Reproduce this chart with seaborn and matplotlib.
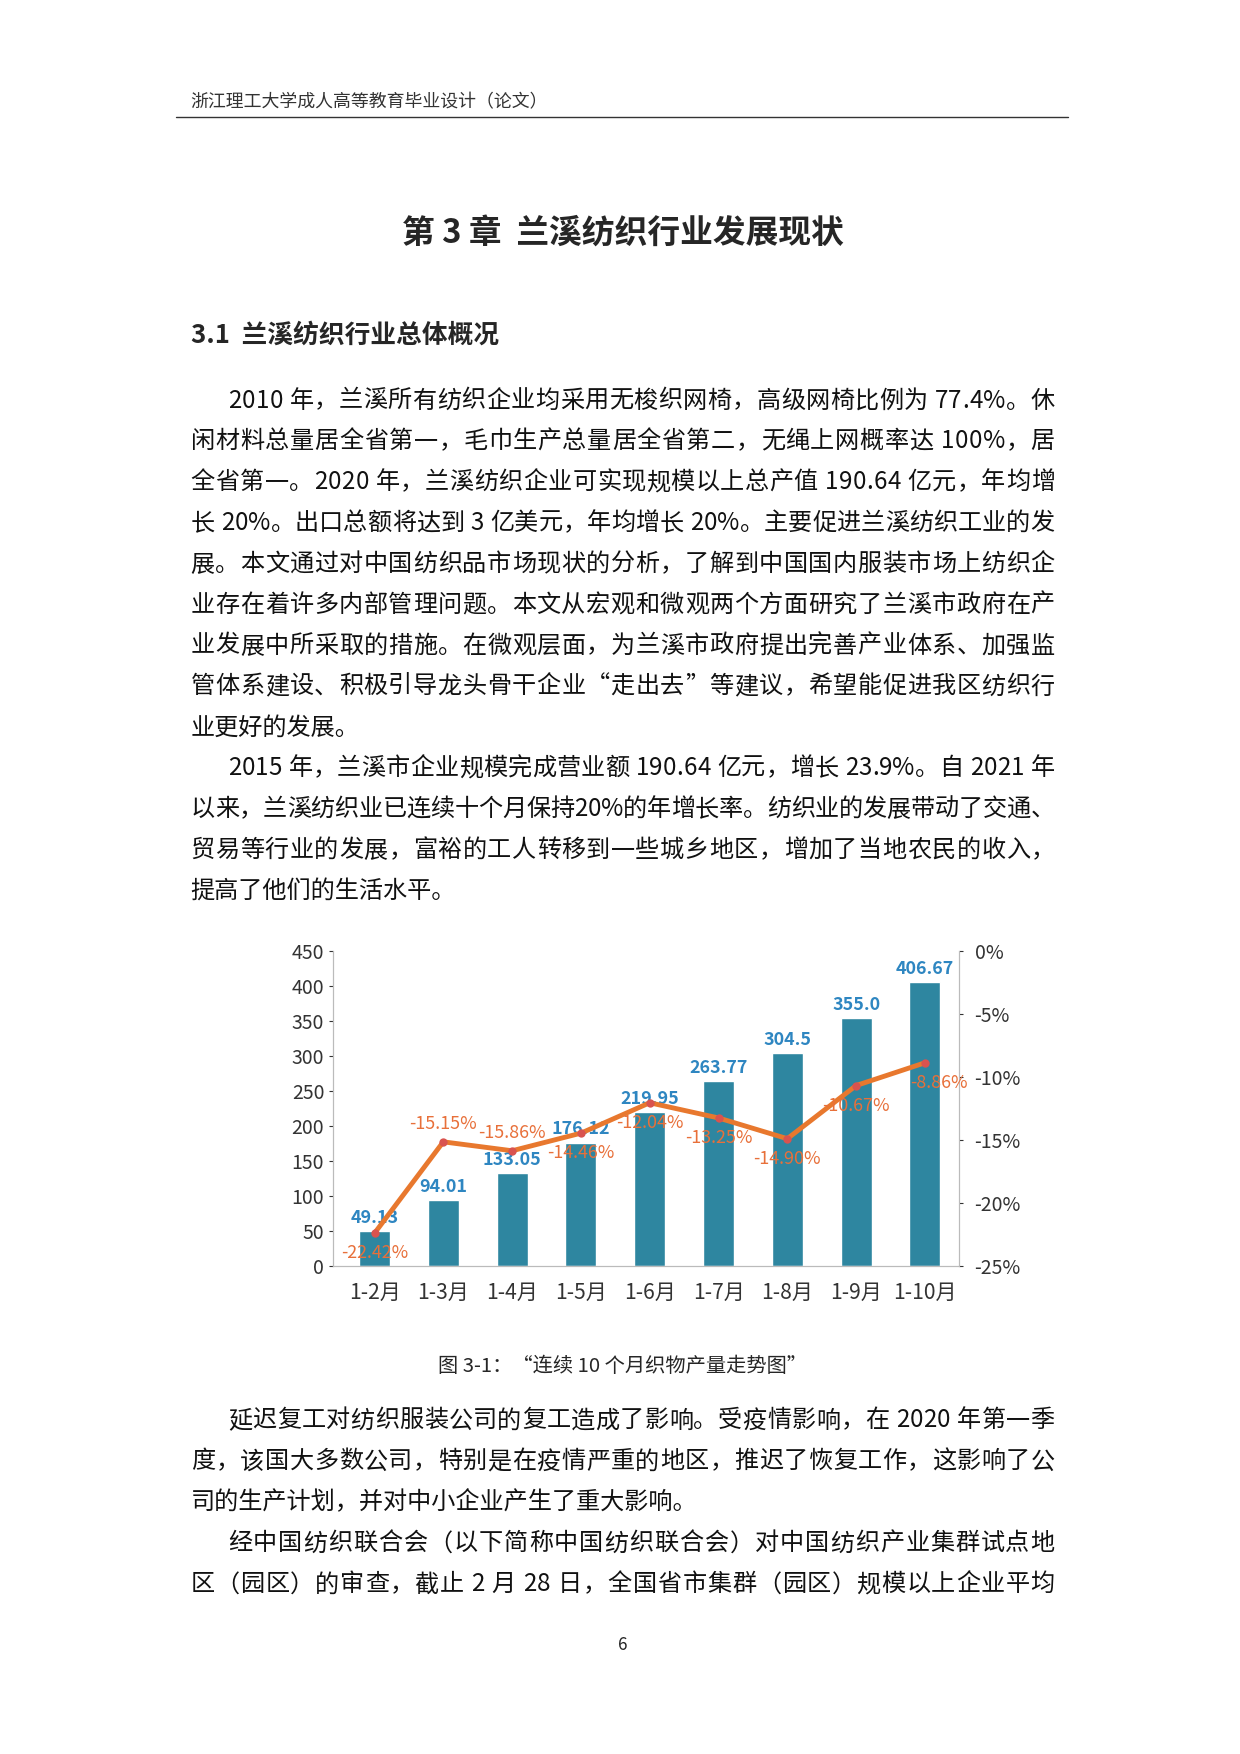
import matplotlib.pyplot as plt
import pandas as pd
import seaborn as sns

months = ["1-2月", "1-3月", "1-4月", "1-5月", "1-6月", "1-7月", "1-8月", "1-9月", "1-10月"]
output = [49.13, 94.01, 133.05, 176.12, 219.95, 263.77, 304.5, 355.0, 406.67]
output_labels = ["49.13", "94.01", "133.05", "176.12", "219.95", "263.77", "304.5", "355.0", "406.67"]
growth = [-22.42, -15.15, -15.86, -14.46, -12.04, -13.25, -14.90, -10.67, -8.86]
growth_above = [False, True, True, False, False, False, False, False, False]

para_top = [
    ("2010 年，兰溪所有纺织企业均采用无梭织网椅，高级网椅比例为 77.4%。休", True, True),
    ("闲材料总量居全省第一，毛巾生产总量居全省第二，无绳上网概率达 100%，居", False, True),
    ("全省第一。2020 年，兰溪纺织企业可实现规模以上总产值 190.64 亿元，年均增", False, True),
    ("长 20%。出口总额将达到 3 亿美元，年均增长 20%。主要促进兰溪纺织工业的发", False, True),
    ("展。本文通过对中国纺织品市场现状的分析，了解到中国国内服装市场上纺织企", False, True),
    ("业存在着许多内部管理问题。本文从宏观和微观两个方面研究了兰溪市政府在产", False, True),
    ("业发展中所采取的措施。在微观层面，为兰溪市政府提出完善产业体系、加强监", False, True),
    ("管体系建设、积极引导龙头骨干企业“走出去”等建议，希望能促进我区纺织行", False, True),
    ("业更好的发展。", False, False),
    ("2015 年，兰溪市企业规模完成营业额 190.64 亿元，增长 23.9%。自 2021 年", True, True),
    ("以来，兰溪纺织业已连续十个月保持20%的年增长率。纺织业的发展带动了交通、", False, True),
    ("贸易等行业的发展，富裕的工人转移到一些城乡地区，增加了当地农民的收入，", False, True),
    ("提高了他们的生活水平。", False, False),
]
para_bottom = [
    ("延迟复工对纺织服装公司的复工造成了影响。受疫情影响，在 2020 年第一季", True, True),
    ("度，该国大多数公司，特别是在疫情严重的地区，推迟了恢复工作，这影响了公", False, True),
    ("司的生产计划，并对中小企业产生了重大影响。", False, False),
    ("经中国纺织联合会（以下简称中国纺织联合会）对中国纺织产业集群试点地", True, True),
    ("区（园区）的审查，截止 2 月 28 日，全国省市集群（园区）规模以上企业平均", False, True),
]

sns.set_style("white")
plt.rcParams["font.family"] = ["Noto Sans CJK SC", "DejaVu Sans"]

W, H = 1240, 1754
S = 1.122  # layout measured on a 1105-wide view of the page
fig = plt.figure(figsize=(12.4, 17.54), dpi=100)
renderer = fig.canvas.get_renderer()


def px(x, y):
    return x * S / W, 1 - y * S / H


def body_line(text, y, indent, justify, size=15.5 * S):
    x0 = 203 if indent else 170
    x1 = 940
    if not justify:
        fig.text(*px(x0, y), text, fontsize=size, va="center", color="#111")
        return
    widths = []
    for ch in text:
        t = fig.text(0, 0, ch, fontsize=size)
        widths.append(t.get_window_extent(renderer).width / S if ch != " " else size * 0.3)
        t.remove()
    gap = (x1 - x0 - sum(widths)) / max(len(text) - 1, 1)
    x = x0
    for ch, w in zip(text, widths):
        if ch != " ":
            fig.text(*px(x, y), ch, fontsize=size, va="center", color="#111")
        x += w + gap


# header
fig.text(*px(170, 91), "浙江理工大学成人高等教育毕业设计（论文）", fontsize=11.5 * S, va="center", color="#333")
fig.add_artist(plt.Line2D([157 * S / W, 952 * S / W], [1 - 104 * S / H] * 2, color="#333", lw=1))
fig.text(*px(555, 208), "第 3 章  兰溪纺织行业发展现状", fontsize=21 * S, fontweight="bold",
         ha="center", va="center")
fig.text(*px(170, 299), "3.1  兰溪纺织行业总体概况", fontsize=16.5 * S, fontweight="bold", va="center")

for i, (txt, ind, jus) in enumerate(para_top):
    body_line(txt, 357 + i * 36.4, ind, jus)
for i, (txt, ind, jus) in enumerate(para_bottom):
    body_line(txt, 1266 + i * 36.5, ind, jus)

fig.text(*px(555, 1218), "图 3-1：“连续 10 个月织物产量走势图”", fontsize=13 * S, ha="center", va="center")
fig.text(*px(555, 1466), "6", fontsize=11 * S, ha="center", va="center")

# chart
ax = fig.add_axes([297 * S / W, 1 - 1128 * S / H, (855 - 297) * S / W, 280 * S / H])
df = pd.DataFrame({"month": months, "output": output, "growth": growth})
sns.barplot(data=df, x="month", y="output", color="#2e86a0", width=0.45, saturation=1, ax=ax)
ax.set_ylim(0, 450)
ax.set_yticks(range(0, 451, 50))
ax.set_xlim(-0.6, len(months) - 0.5)
ax.set_xlabel("")
ax.set_ylabel("")
ax.tick_params(axis="y", labelsize=12.5 * S, colors="#333", length=3)
ax.tick_params(axis="x", labelsize=13.5 * S, colors="#333", length=0, pad=12)
for i, lab in enumerate(output_labels):
    ax.text(i, output[i] + 6, lab, ha="center", va="bottom", fontsize=11.5 * S,
            color="#2e86c1", fontweight="bold")

ax2 = ax.twinx()
sns.lineplot(data=df, x="month", y="growth", color="#e8782e", lw=3.5, marker="o",
             markersize=6, markerfacecolor="#d9534f", markeredgewidth=0, ax=ax2)
ax2.set_ylim(-25, 0)
ax2.set_yticks(range(-25, 1, 5))
ax2.set_yticklabels([f"{v}%" for v in range(-25, 1, 5)])
ax2.set_ylabel("")
ax2.tick_params(axis="y", labelsize=12.5 * S, colors="#333", length=3, pad=8)
for i, g in enumerate(growth):
    dy = 1.4 if growth_above[i] else -1.6
    dx = 0.2 if i == len(growth) - 1 else 0
    ax2.text(i + dx, g + dy, f"{g:.2f}%", ha="center", va="center", fontsize=11.5 * S,
             color="#e8703a")

for a in (ax, ax2):
    a.spines["top"].set_visible(False)
    for s in ("left", "right", "bottom"):
        a.spines[s].set_color("#bbb")

fig.savefig("out.png", dpi=100)
